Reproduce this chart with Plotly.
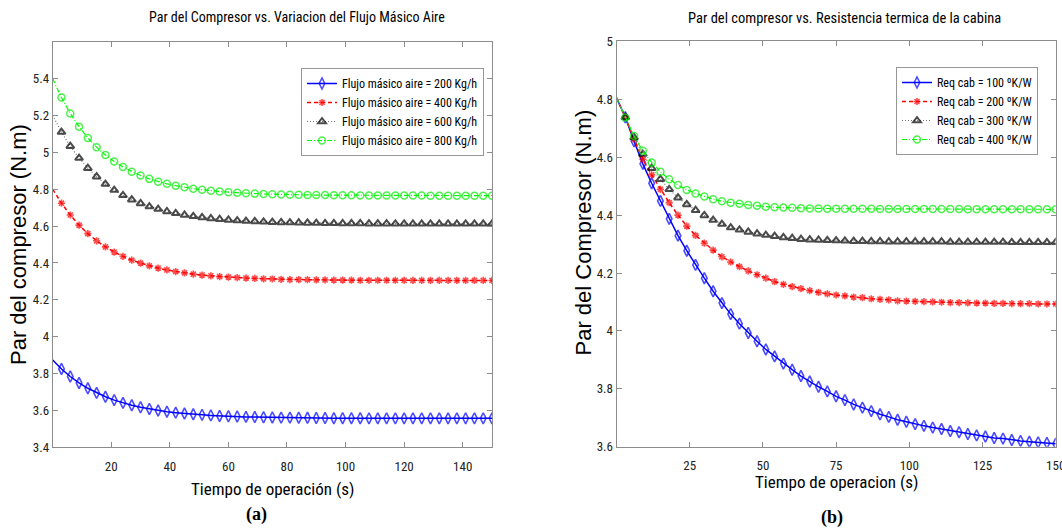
import plotly.graph_objects as go

W, H = 1062, 530

# Time samples (s), one sample every 3 s
t = list(range(0, 151, 3))

# Panel (a): compressor torque (N.m) for each air mass flow
flujo_200 = [3.874, 3.825, 3.784, 3.749, 3.720, 3.695, 3.674, 3.656, 3.641, 3.628,
             3.617, 3.608, 3.600, 3.593, 3.588, 3.583, 3.579, 3.576, 3.573, 3.570,
             3.568, 3.567, 3.565, 3.564, 3.563, 3.562, 3.561, 3.561, 3.560, 3.560,
             3.559, 3.559, 3.558, 3.558, 3.558, 3.558, 3.557, 3.557, 3.557, 3.557,
             3.557, 3.557, 3.557, 3.557, 3.557, 3.557, 3.557, 3.557, 3.557, 3.557,
             3.557]
flujo_400 = [4.800, 4.724, 4.660, 4.605, 4.559, 4.520, 4.487, 4.459, 4.436, 4.415,
             4.399, 4.384, 4.372, 4.362, 4.353, 4.346, 4.339, 4.334, 4.330, 4.326,
             4.323, 4.320, 4.318, 4.316, 4.314, 4.313, 4.311, 4.310, 4.310, 4.309,
             4.308, 4.308, 4.307, 4.307, 4.307, 4.306, 4.306, 4.306, 4.306, 4.306,
             4.306, 4.305, 4.305, 4.305, 4.305, 4.305, 4.305, 4.305, 4.305, 4.305,
             4.305]
flujo_600 = [5.200, 5.110, 5.033, 4.969, 4.914, 4.868, 4.828, 4.795, 4.767, 4.743,
             4.723, 4.706, 4.692, 4.679, 4.669, 4.660, 4.653, 4.647, 4.641, 4.637,
             4.633, 4.630, 4.627, 4.625, 4.623, 4.621, 4.620, 4.619, 4.618, 4.617,
             4.616, 4.615, 4.615, 4.614, 4.614, 4.614, 4.613, 4.613, 4.613, 4.612,
             4.612, 4.612, 4.612, 4.612, 4.612, 4.612, 4.612, 4.612, 4.612, 4.612,
             4.612]
flujo_800 = [5.400, 5.297, 5.211, 5.139, 5.078, 5.028, 4.985, 4.950, 4.920, 4.895,
             4.874, 4.856, 4.841, 4.829, 4.819, 4.810, 4.803, 4.797, 4.792, 4.787,
             4.784, 4.781, 4.778, 4.776, 4.774, 4.773, 4.771, 4.770, 4.770, 4.769,
             4.768, 4.768, 4.767, 4.767, 4.767, 4.766, 4.766, 4.766, 4.766, 4.766,
             4.766, 4.766, 4.766, 4.765, 4.765, 4.765, 4.765, 4.765, 4.765, 4.765,
             4.765]

# Panel (b): compressor torque (N.m) for each cabin thermal resistance
req_100 = [4.805, 4.738, 4.655, 4.577, 4.510, 4.449, 4.387, 4.329, 4.277, 4.228,
           4.182, 4.137, 4.096, 4.058, 4.025, 3.993, 3.964, 3.936, 3.912, 3.887,
           3.866, 3.844, 3.825, 3.807, 3.791, 3.774, 3.761, 3.746, 3.735, 3.723,
           3.712, 3.703, 3.693, 3.686, 3.678, 3.672, 3.666, 3.661, 3.654, 3.650,
           3.644, 3.639, 3.635, 3.630, 3.628, 3.623, 3.620, 3.617, 3.615, 3.613,
           3.610]
req_200 = [4.805, 4.738, 4.662, 4.593, 4.539, 4.489, 4.443, 4.400, 4.362, 4.330,
           4.303, 4.279, 4.256, 4.238, 4.222, 4.207, 4.194, 4.182, 4.170, 4.161,
           4.153, 4.146, 4.139, 4.133, 4.128, 4.124, 4.121, 4.117, 4.115, 4.111,
           4.109, 4.107, 4.104, 4.103, 4.102, 4.101, 4.100, 4.099, 4.098, 4.098,
           4.097, 4.096, 4.096, 4.095, 4.095, 4.094, 4.094, 4.094, 4.093, 4.093,
           4.093]
req_300 = [4.805, 4.738, 4.668, 4.611, 4.562, 4.524, 4.489, 4.460, 4.437, 4.417,
           4.399, 4.383, 4.369, 4.357, 4.349, 4.342, 4.336, 4.331, 4.327, 4.323,
           4.320, 4.317, 4.315, 4.314, 4.313, 4.312, 4.311, 4.310, 4.310, 4.309,
           4.309, 4.308, 4.308, 4.308, 4.308, 4.308, 4.308, 4.308, 4.307, 4.307,
           4.307, 4.307, 4.307, 4.307, 4.307, 4.306, 4.306, 4.306, 4.306, 4.306,
           4.306]
req_400 = [4.805, 4.736, 4.673, 4.622, 4.582, 4.550, 4.524, 4.504, 4.487, 4.475,
           4.464, 4.455, 4.448, 4.443, 4.439, 4.435, 4.432, 4.429, 4.427, 4.426,
           4.425, 4.424, 4.423, 4.423, 4.422, 4.422, 4.422, 4.422, 4.422, 4.422,
           4.421, 4.421, 4.421, 4.421, 4.421, 4.421, 4.421, 4.421, 4.421, 4.421,
           4.420, 4.420, 4.420, 4.420, 4.420, 4.420, 4.420, 4.420, 4.420, 4.420,
           4.420]

labels_a = ["Flujo másico aire = 200 Kg/h", "Flujo másico aire = 400 Kg/h",
            "Flujo másico aire = 600 Kg/h", "Flujo másico aire = 800 Kg/h"]
labels_b = ["Req cab = 100 ºK/W", "Req cab = 200 ºK/W",
            "Req cab = 300 ºK/W", "Req cab = 400 ºK/W"]

xticks_a = [20, 40, 60, 80, 100, 120, 140]
yticks_a = [3.4, 3.6, 3.8, 4.0, 4.2, 4.4, 4.6, 4.8, 5.0, 5.2, 5.4]
yticktext_a = ["3.4", "3.6", "3.8", "4", "4.2", "4.4", "4.6", "4.8", "5", "5.2", "5.4"]
xticks_b = [25, 50, 75, 100, 125, 150]
yticks_b = [3.6, 3.8, 4.0, 4.2, 4.4, 4.6, 4.8, 5.0]
yticktext_b = ["3.6", "3.8", "4", "4.2", "4.4", "4.6", "4.8", "5"]

NARROW = "Roboto Condensed, Liberation Sans Narrow, DejaVu Sans Condensed, sans-serif"
REGULAR = "Liberation Sans, Arial, sans-serif"
SERIF = "Liberation Serif, Times New Roman, serif"
AX = "rgb(140,140,140)"

# Styles for the four series: (line colour, dash, width, marker symbol, marker colour, size, marker line)
styles = [
    ("rgb(0,0,255)", "solid", 1.5, "diamond-tall-open", "rgb(0,0,255)", 8, 1.6),
    ("rgb(255,0,0)", "4px,3px", 1.5, "asterisk-open", "rgb(255,0,0)", 6, 1.6),
    ("rgb(120,120,120)", "1px,2px", 1.2, "triangle-up-open", "black", 7, 2.0),
    ("rgb(0,255,0)", "5px,2px,1px,2px", 1.2, "circle-open", "rgb(0,235,0)", 7, 1.5),
]

# no marker on the starting sample
def sizes(s):
    return [0] + [s] * (len(t) - 1)

fig = go.Figure()

for series, name, st in zip([flujo_200, flujo_400, flujo_600, flujo_800], labels_a, styles):
    lc, dash, lw, sym, mc, ms, mlw = st
    fig.add_trace(go.Scatter(
        x=t, y=series, name=name, mode="lines+markers",
        line=dict(color=lc, dash=dash, width=lw),
        marker=dict(symbol=sym, size=sizes(ms), color=mc, line=dict(color=mc, width=mlw)),
        xaxis="x", yaxis="y", legend="legend"))

for series, name, st in zip([req_100, req_200, req_300, req_400], labels_b, styles):
    lc, dash, lw, sym, mc, ms, mlw = st
    fig.add_trace(go.Scatter(
        x=t, y=series, name=name, mode="lines+markers",
        line=dict(color=lc, dash=dash, width=lw),
        marker=dict(symbol=sym, size=sizes(ms), color=mc, line=dict(color=mc, width=mlw)),
        xaxis="x2", yaxis="y2", legend="legend2"))

axis_common = dict(showline=True, linecolor=AX, linewidth=1, mirror="ticks",
                   ticks="inside", ticklen=5, tickcolor=AX, showgrid=False,
                   zeroline=False, automargin=False, ticklabeloverflow="allow",
                   tickfont=dict(family=NARROW, size=13, color="#222"))

legend_common = dict(xanchor="left", yanchor="top", bgcolor="white",
                     bordercolor="rgb(150,150,150)", borderwidth=1,
                     font=dict(family=NARROW, size=12, color="black"),
                     itemwidth=30, tracegroupgap=0)

fig.update_layout(
    width=W, height=H, margin=dict(l=0, r=0, t=0, b=0, autoexpand=False),
    paper_bgcolor="white", plot_bgcolor="white", showlegend=True,
    xaxis=dict(domain=[52.7 / W, 492 / W], range=[0, 150], tickvals=xticks_a,
               anchor="y", ticklabelstandoff=7, **axis_common),
    yaxis=dict(domain=[1 - 447.3 / H, 1 - 41.7 / H], range=[3.4, 5.6], tickvals=yticks_a,
               ticktext=yticktext_a, anchor="x", **axis_common),
    xaxis2=dict(domain=[616.5 / W, 1055.7 / W], range=[0, 150], tickvals=xticks_b,
                anchor="y2", ticklabelstandoff=7, **axis_common),
    yaxis2=dict(domain=[1 - 446.7 / H, 1 - 41.4 / H], range=[3.6, 5.0], tickvals=yticks_b,
                ticktext=yticktext_b, anchor="x2", **axis_common),
    legend=dict(x=301 / W, y=1 - 68 / H, **legend_common),
    legend2=dict(x=896 / W, y=1 - 67 / H, **legend_common),
)

def note(text, x, y, family, size, angle=0, bold=False):
    fig.add_annotation(text=f"<b>{text}</b>" if bold else text,
                       x=x / W, y=1 - y / H, xref="paper", yref="paper",
                       xanchor="center", yanchor="middle", showarrow=False,
                       textangle=angle, font=dict(family=family, size=size, color="black"))

note("Par del Compresor vs. Variacion del Flujo Másico Aire", 297, 17, NARROW, 14)
note("Par del compresor vs. Resistencia termica de la cabina", 844, 19, NARROW, 14.5)
note("Tiempo de operación (s)", 272.5, 489, NARROW, 17)
note("Tiempo de operacion (s)", 836.7, 482, NARROW, 17)
note("Par del compresor (N.m)", 18, 245, REGULAR, 22, angle=-90)
note("Par del Compresor (N.m)", 583, 232.5, REGULAR, 22, angle=-90)
note("(a)", 256.7, 514, SERIF, 18, bold=True)
note("(b)", 831.7, 517, SERIF, 18, bold=True)

fig.write_html("out.html")
